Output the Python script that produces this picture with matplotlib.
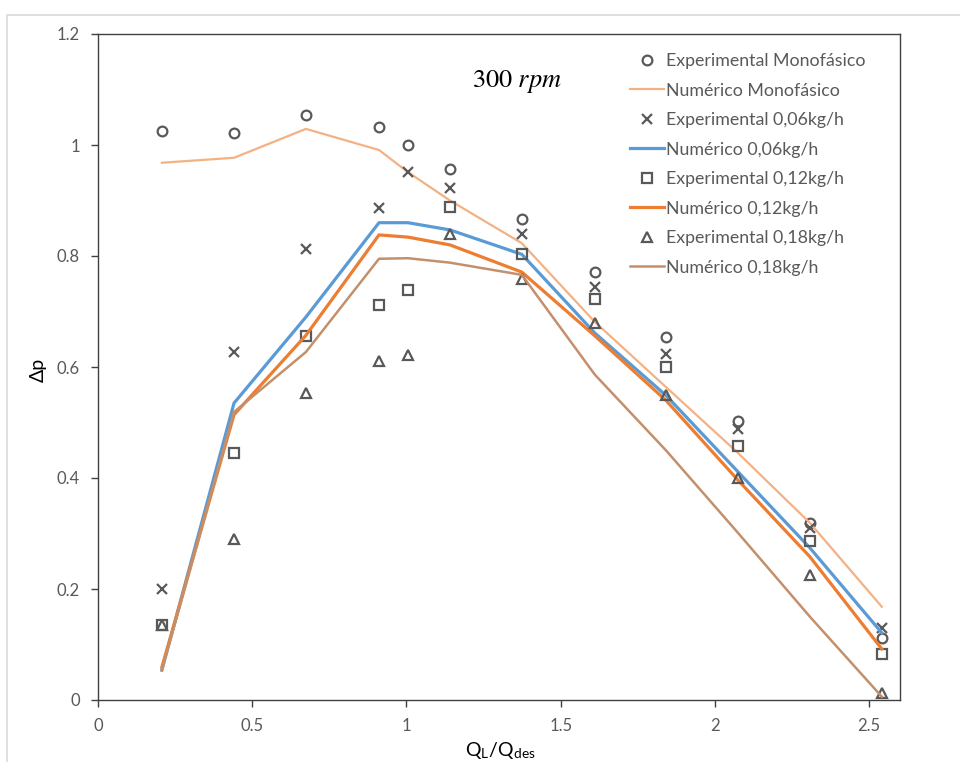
import matplotlib
matplotlib.use("Agg")
import matplotlib.pyplot as plt
from matplotlib.patches import Rectangle

plt.rcParams['font.family'] = ['Lato', 'DejaVu Sans']
plt.rcParams['mathtext.fontset'] = 'stix'

# Q_L/Q_des values (same for every series)
q = [0.207, 0.441, 0.674, 0.911, 1.005, 1.141, 1.374, 1.611, 1.841, 2.075, 2.308, 2.541]

# experimental points
exp_mono = [1.025, 1.022, 1.054, 1.032, 1.000, 0.957, 0.867, 0.771, 0.654, 0.503, 0.319, 0.112]
exp_006 = [0.200, 0.627, 0.813, 0.886, 0.951, 0.922, 0.840, 0.744, 0.623, 0.488, 0.310, 0.130]
exp_012 = [0.135, 0.445, 0.656, 0.712, 0.739, 0.888, 0.804, 0.723, 0.600, 0.458, 0.286, 0.083]
exp_018 = [0.135, 0.290, 0.553, 0.611, 0.622, 0.840, 0.759, 0.679, 0.550, 0.400, 0.225, 0.013]

# numerical curves
num_mono = [0.968, 0.977, 1.029, 0.991, 0.951, 0.900, 0.823, 0.681, 0.564, 0.445, 0.319, 0.168]
num_006 = [0.054, 0.535, 0.690, 0.860, 0.860, 0.847, 0.803, 0.661, 0.549, 0.411, 0.274, 0.121]
num_012 = [0.059, 0.514, 0.657, 0.838, 0.834, 0.820, 0.771, 0.656, 0.540, 0.396, 0.258, 0.092]
num_018 = [0.053, 0.519, 0.627, 0.795, 0.796, 0.788, 0.766, 0.586, 0.450, 0.301, 0.150, 0.006]

gray = '#595959'

fig = plt.figure(figsize=(9.6, 7.62), dpi=100)
# outer chart border like the Excel chart area
fig.patches.append(Rectangle((7 / 960, -0.1), 1.0, (762 - 15) / 762 + 0.1,
                             transform=fig.transFigure, fill=False,
                             edgecolor='#d9d9d9', lw=1.2))
ax = fig.add_axes([98 / 960, 62 / 762, 802 / 960, 666 / 762])

mk = dict(linestyle='none', mfc='none', mec=gray, mew=1.6, ms=7)
ax.plot(q, exp_mono, marker='o', label='Experimental Monofásico', **mk)
ax.plot(q, num_mono, color='#f4b183', lw=1.6, label='Numérico Monofásico')
ax.plot(q, exp_006, marker='x', label='Experimental 0,06kg/h', **mk)
ax.plot(q, num_006, color='#5b9bd5', lw=2.3, label='Numérico 0,06kg/h')
ax.plot(q, exp_012, marker='s', label='Experimental 0,12kg/h', **mk)
ax.plot(q, num_012, color='#ed7d31', lw=2.3, label='Numérico 0,12kg/h')
ax.plot(q, exp_018, marker='^', label='Experimental 0,18kg/h', **mk)
ax.plot(q, num_018, color='#c4906c', lw=1.8, label='Numérico 0,18kg/h')

ax.set_xlim(0, 2.6)
ax.set_ylim(0, 1.2)
ax.set_xticks([0, 0.5, 1, 1.5, 2, 2.5])
ax.set_xticklabels(['0', '0.5', '1', '1.5', '2', '2.5'])
ax.set_yticks([0, 0.2, 0.4, 0.6, 0.8, 1.0, 1.2])
ax.set_yticklabels(['0', '0.2', '0.4', '0.6', '0.8', '1', '1.2'])
ax.tick_params(direction='out', length=5, width=1, color='#404040',
               labelcolor=gray, labelsize=12, pad=8)
for s in ax.spines.values():
    s.set_color('#404040')
    s.set_linewidth(1)

ax.text(1.36, 1.114, r'$300\ rpm$', fontsize=19, ha='center', va='center')

ax.legend(loc='upper left', bbox_to_anchor=(630 / 960, 1 - 53 / 762),
          bbox_transform=fig.transFigure, frameon=False, fontsize=12.8,
          labelcolor=gray, handlelength=1.9, handletextpad=0.15,
          labelspacing=0.76, borderpad=0, borderaxespad=0)

fig.text(38 / 960, 1 - 370 / 762, 'Δp', rotation=90, fontsize=14,
         ha='center', va='center')
fig.text(500 / 960, 6 / 762, r'Q$_\mathregular{L}$/Q$_\mathregular{des}$',
         fontsize=14, ha='center', va='baseline')

fig.savefig('out.png', dpi=100)
